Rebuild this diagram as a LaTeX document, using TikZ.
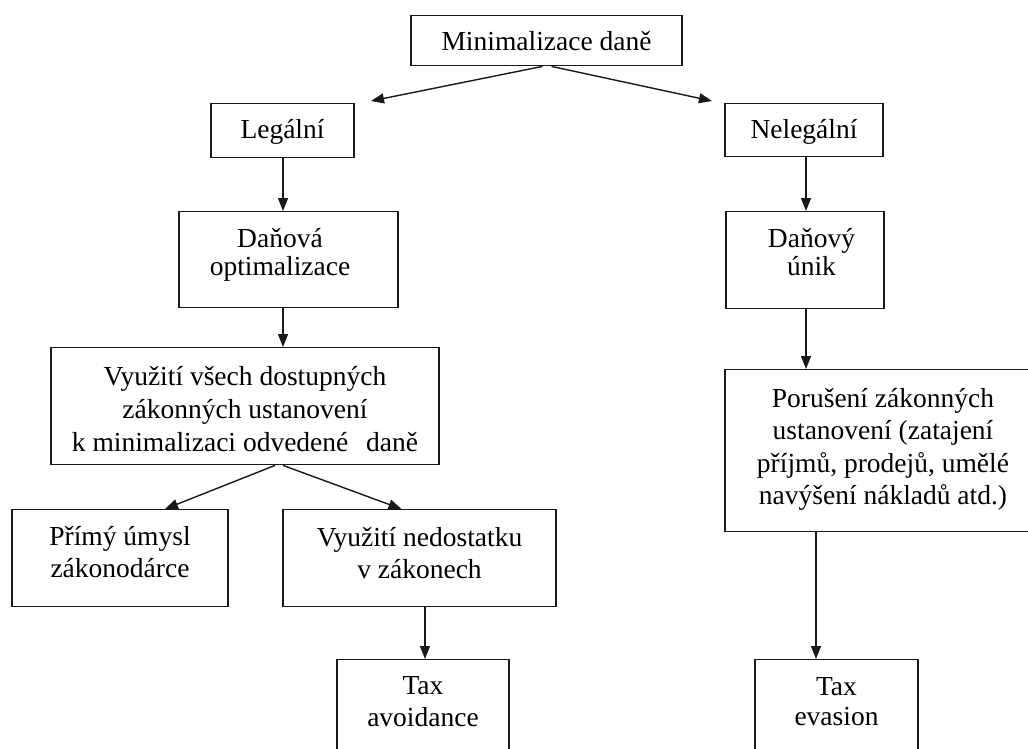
\documentclass[tikz,border=0pt]{standalone}
\usepackage{fontspec}
\setmainfont{Liberation Serif}
\usetikzlibrary{arrows.meta}
\begin{document}
\begin{tikzpicture}[x=1pt,y=-1pt,
  box/.style={draw=black!90, line width=1.4pt, inner xsep=0pt, inner ysep=0pt,
    align=center, anchor=north, font=\fontsize{27.5}{32}\selectfont},
  arr/.style={draw=black!90, line width=1.4pt, -{Triangle[length=13pt,width=10pt]}}]
\useasboundingbox (0,0) rectangle (1028,749);
\clip (0,0) rectangle (1028,749);
% boxes (text height/depth measured from the last baseline)
\node[box, minimum width=271pt, text height=35pt, text depth=15pt] (min) at (546.5,15) {Minimalizace daně};
\node[box, minimum width=143pt, text height=34.7pt, text depth=19.3pt] (leg) at (282.5,103) {Legální};
\node[box, minimum width=158pt, text height=35pt, text depth=18pt] (neleg) at (804,103) {Nelegální};
\node[box, minimum width=219pt, text height=63.7pt, text depth=32.3pt,
  font=\fontsize{27.5}{28}\selectfont] (dopt) at (288.5,211)
  {\hspace*{-17pt}Daňová\\\hspace*{-17pt}optimalizace};
\node[box, minimum width=158pt, text height=63.7pt, text depth=33.3pt,
  font=\fontsize{27.5}{28}\selectfont] (dunik) at (805,211)
  {\hspace*{13pt}Daňový\\\hspace*{13pt}únik};
\node[box, minimum width=388pt, text height=103.3pt, text depth=13.7pt,
  font=\fontsize{27.5}{33}\selectfont] (vyuz) at (245,347)
  {Využití všech dostupných\\zákonných ustanovení\\k minimalizaci odvedené\hspace{0.4em} daně};
\node[box, minimum width=216pt, text height=68pt, text depth=29pt] (primy) at (120,509)
  {Přímý úmysl\\zákonodárce};
\node[box, minimum width=273pt, text height=69pt, text depth=28pt] (nedost) at (419.5,509)
  {Využití nedostatku\\v zákonech};
\node[box, minimum width=316pt, text height=134.9pt, text depth=27.1pt,
  font=\fontsize{27.5}{32.4}\selectfont] (porus) at (883,369)
  {Porušení zákonných\\ustanovení (zatajení\\příjmů, prodejů, umělé\\navýšení nákladů atd.)};
\node[box, minimum width=172pt, text height=67pt, text depth=30pt] (taxav) at (423,659)
  {Tax\\avoidance};
\node[box, minimum width=163pt, text height=66pt, text depth=31pt,
  font=\fontsize{27.5}{30}\selectfont] (taxev) at (836.5,659)
  {Tax\\evasion};
% free ends
\coordinate (tipL) at (371,101);
\coordinate (tipR) at (712,101);
\coordinate (xL) at (283,0);
\coordinate (xR) at (806,0);
% connectors
\draw[arr] ([xshift=-4pt]min.south) -- (tipL);
\draw[arr] ([xshift=5pt]min.south) -- (tipR);
\draw[arr] (xL |- leg.south) -- (xL |- dopt.north);
\draw[arr] (xR |- neleg.south) -- (xR |- dunik.north);
\draw[arr] (xL |- dopt.south) -- (xL |- vyuz.north);
\draw[arr] (xR |- dunik.south) -- (xR |- porus.north);
\draw[arr] ([xshift=30pt]vyuz.south) -- ([xshift=45pt]primy.north);
\draw[arr] ([xshift=38pt]vyuz.south) -- ([xshift=-18pt]nedost.north);
\draw[arr] ([xshift=5.5pt]nedost.south) -- ([xshift=2pt]taxav.north);
\draw[arr] ([xshift=-67pt]porus.south) -- ([xshift=-20.5pt]taxev.north);
\end{tikzpicture}
\end{document}
